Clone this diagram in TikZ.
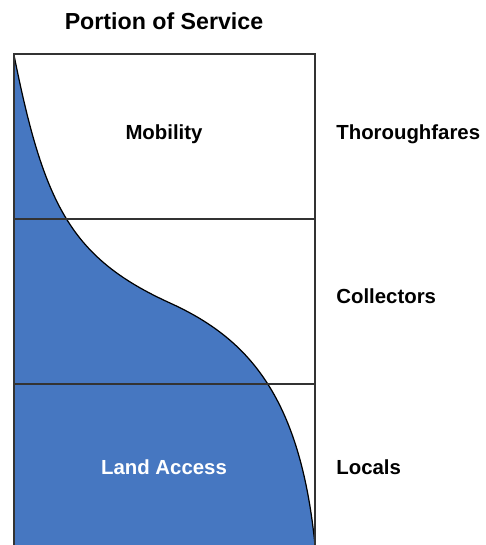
\documentclass[tikz,border=0pt]{standalone}
\usepackage{fontspec}
\setmainfont{Liberation Sans}
\definecolor{landblue}{HTML}{4677C1}
\definecolor{edgegray}{HTML}{333333}
\begin{document}
\begin{tikzpicture}[x=0.02cm,y=-0.02cm,
    lbl/.style={font=\bfseries\fontsize{11.6}{13}\selectfont,inner sep=0pt},
    side/.style={lbl,anchor=west}]
    \useasboundingbox (0,0) rectangle (485,545);
    % land access share
    \fill [landblue] (14,55) .. controls (44,205) and (71,258) .. (170,303)
        .. controls (247,338) and (300,395) .. (315,545) -- (14,545) -- cycle;
    \draw [line width=0.7pt] (14,55) .. controls (44,205) and (71,258) .. (170,303)
        .. controls (247,338) and (300,395) .. (315,545);
    % frame and bands
    \draw [edgegray,line width=0.85pt] (14,545) -- (14,54) -- (315,54) -- (315,545);
    \draw [edgegray,line width=0.85pt] (14,219) -- (315,219);
    \draw [edgegray,line width=0.85pt] (14,384) -- (315,384);
    \node [lbl,font=\bfseries\fontsize{13.2}{15}\selectfont] (title) at (164,21) {Portion of Service};
    \node [lbl] (mobility) at (164,134) {Mobility};
    \node [lbl,white] (access) at (164,467) {Land Access};
    \node [side] (thorough) at (336,134) {Thoroughfares};
    \node [side] (collect) at (336,296) {Collectors};
    \node [side] (local) at (336,467) {Locals};
\end{tikzpicture}
\end{document}
